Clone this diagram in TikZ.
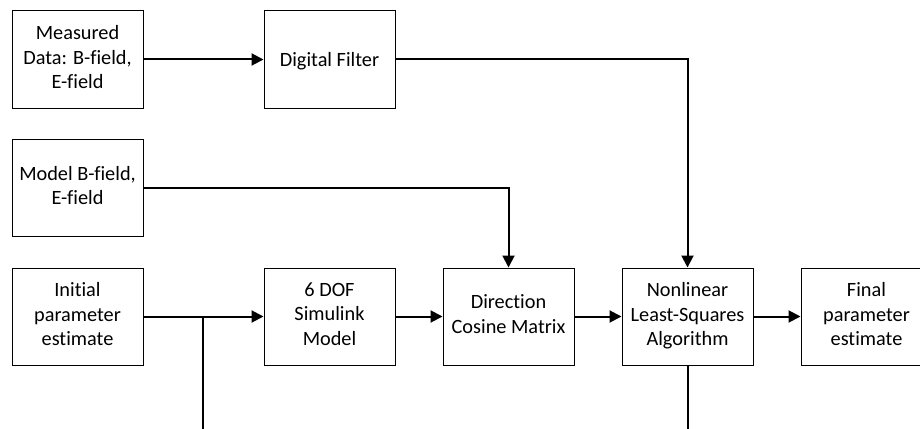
\documentclass[tikz,border=0pt]{standalone}
\usepackage{fontspec}
\setmainfont[Ligatures=NoCommon]{Carlito}
\usetikzlibrary{arrows.meta}
\begin{document}
\begin{tikzpicture}[x=1pt,y=-1pt,
  blk/.style={draw=black,line width=1pt,minimum width=131pt,minimum height=97pt,inner sep=0pt,align=center,
    font=\fontsize{20.3}{24.5}\selectfont,
    execute at begin node={\rule{0pt}{19pt}},
    execute at end node={\rule[-5pt]{0pt}{5pt}}},
  conn/.style={line width=2pt,-{Triangle[length=12pt,width=12pt]}},
  plain/.style={line width=2pt}]
\useasboundingbox (0,0) rectangle (920,428);
\clip (0,0) rectangle (920,428);
\node[blk] (meas) at (77.5,59.5) {Measured\\Data: B-field,\\E-field};
\node[blk] (filt) at (329.5,59.5) {Digital Filter};
\node[blk] (model) at (77.5,188) {Model B-field,\\E-field};
\node[blk] (init) at (77.5,316.5) {Initial\\parameter\\estimate};
\node[blk] (sim) at (329.5,316.5) {6 DOF\\Simulink\\Model};
\node[blk] (dcm) at (508.5,316.5) {Direction\\Cosine Matrix};
\node[blk] (nls) at (687.5,316.5) {Nonlinear\\Least-Squares\\Algorithm};
\node[blk] (fin) at (866.5,316.5) {Final\\parameter\\estimate};
\coordinate (jn) at (203,316.5);
\coordinate (jb) at (203,430);
\coordinate (nb) at (687.5,430);
\draw[conn] (meas.east) -- (filt.west);
\draw[conn] (filt.east) -| (nls.north);
\draw[conn] (model.east) -| (dcm.north);
\draw[conn] (init.east) -- (sim.west);
\draw[plain] (jn) -- (jb);
\draw[conn] (sim.east) -- (dcm.west);
\draw[conn] (dcm.east) -- (nls.west);
\draw[conn] (nls.east) -- (fin.west);
\draw[plain] (nls.south) -- (nb);
\end{tikzpicture}
\end{document}
